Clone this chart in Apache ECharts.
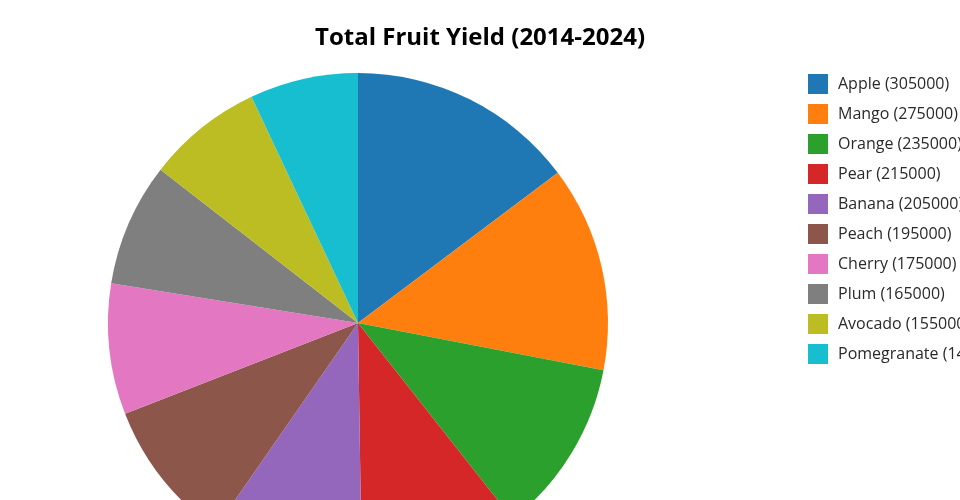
<!DOCTYPE html>
<html><head><meta charset="utf-8">
<script src="https://cdn.jsdelivr.net/npm/echarts@6/dist/echarts.min.js"></script>
<style>html,body{margin:0;padding:0;background:#fff}#c{width:960px;height:500px}</style>
</head><body><div id="c"></div>
<script>
const categories = ["Apple","Mango","Orange","Pear","Banana","Peach","Cherry","Plum","Avocado","Pomegranate"];
const values = [305000,275000,235000,215000,205000,195000,175000,165000,155000,145000];
const colors = ["#1f77b4","#ff7f0e","#2ca02c","#d62728","#9467bd","#8c564b","#e377c2","#7f7f7f","#bcbd22","#17becf"];
const titleText = "Total Fruit Yield (2014-2024)";

const chart = echarts.init(document.getElementById('c'), null, {renderer:'canvas'});
const valMap = {};
categories.forEach((c,i)=>valMap[c]=values[i]);
chart.setOption({
  animation:false,
  color: colors,
  title:{text:titleText,left:'center',top:21,
    textStyle:{fontFamily:'Open Sans',fontWeight:'bold',fontSize:24,color:'#000'}},
  legend:{orient:'vertical',left:803,top:69,itemWidth:20,itemHeight:20,itemGap:10,icon:'rect',
    data:categories,
    formatter:n=>n+' ('+valMap[n]+')',
    textStyle:{fontFamily:'Open Sans',fontSize:16,color:'#2a2a2a',padding:[3,0,0,5]}},
  series:[{type:'pie',center:[358,323],radius:250,startAngle:90,clockwise:true,
    label:{show:false},labelLine:{show:false},
    itemStyle:{borderWidth:0},
    emphasis:{disabled:true},
    data:categories.map((c,i)=>({name:c,value:values[i]}))}]
});
</script></body></html>
